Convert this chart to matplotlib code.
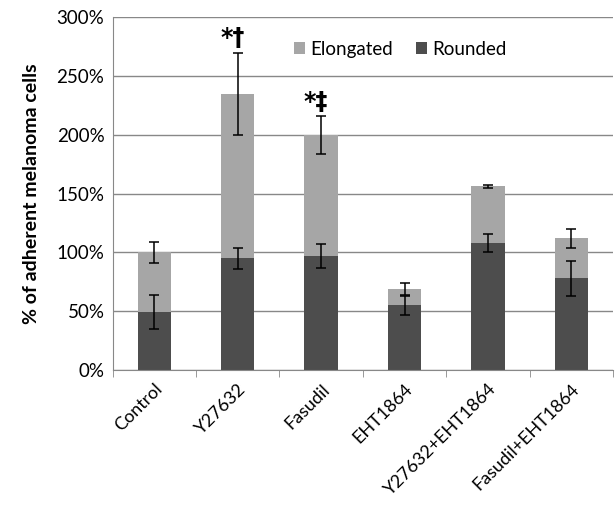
import numpy as np
import matplotlib.pyplot as plt
from matplotlib.ticker import PercentFormatter

plt.rcParams['font.family'] = ['Lato', 'DejaVu Sans']

groups = ["Control", "Y27632", "Fasudil", "EHT1864", "Y27632+EHT1864", "Fasudil+EHT1864"]
rounded = [49, 95, 97, 55, 108, 78]
elongated = [51, 140, 103, 14, 48, 34]
rounded_err = [14.5, 9, 10, 8, 8, 15]
total_err = [9, 35, 16, 5, 1, 8]
marks = ["", "*\u2020", "*\u2021", "", "", ""]

dark = "#4d4d4d"
light = "#a6a6a6"

fig = plt.figure(figsize=(6.16, 5.08), dpi=100)
ax = fig.add_axes([0.183, 0.272, 0.812, 0.694])

x = np.arange(len(groups))
totals = np.array(rounded) + np.array(elongated)

ax.bar(x, rounded, 0.4, color=dark, label="Rounded", zorder=2)
ax.bar(x, elongated, 0.4, bottom=rounded, color=light, label="Elongated", zorder=2)
ax.errorbar(x, rounded, yerr=rounded_err, fmt="none", ecolor="black", elinewidth=1.1, capsize=3.5, capthick=1.1, zorder=3)
ax.errorbar(x, totals, yerr=total_err, fmt="none", ecolor="black", elinewidth=1.1, capsize=3.5, capthick=1.1, zorder=3)

for i, m in enumerate(marks):
    if m:
        ax.text(x[i] - 0.06, totals[i] + total_err[i] + 2, m, ha="center", va="bottom",
                fontsize=17, fontweight="bold", fontfamily="DejaVu Sans")

ax.set_xlim(-0.5, len(groups) - 0.5)
ax.set_ylim(0, 300)
ax.set_yticks(np.arange(0, 301, 50))
ax.yaxis.set_major_formatter(PercentFormatter(decimals=0))
ax.set_xticks(x)
ax.set_xticklabels(groups, rotation=45, ha="right", rotation_mode="anchor", fontsize=13)
ax.set_xticks(np.arange(-0.5, len(groups), 1), minor=True)
ax.tick_params(axis="x", which="major", length=0, pad=8)
ax.tick_params(axis="x", which="minor", length=5, color="#888888")
ax.tick_params(axis="y", length=0, labelsize=13.5, pad=6)
ax.grid(axis="y", color="#888888", linewidth=1, zorder=0)
ax.set_axisbelow(True)
for s in ["top", "right"]:
    ax.spines[s].set_visible(False)
for s in ["left", "bottom"]:
    ax.spines[s].set_color("#888888")
ax.set_ylabel("% of adherent melanoma cells", fontsize=14, fontweight="bold", labelpad=12)

h, l = ax.get_legend_handles_labels()
ax.legend(h[::-1], l[::-1], loc="center", bbox_to_anchor=(0.575, 0.91), ncol=2, frameon=False,
          fontsize=13.5, handlelength=0.6, handleheight=0.6, handletextpad=0.3, columnspacing=1.2)

fig.savefig("out.png", dpi=100)
